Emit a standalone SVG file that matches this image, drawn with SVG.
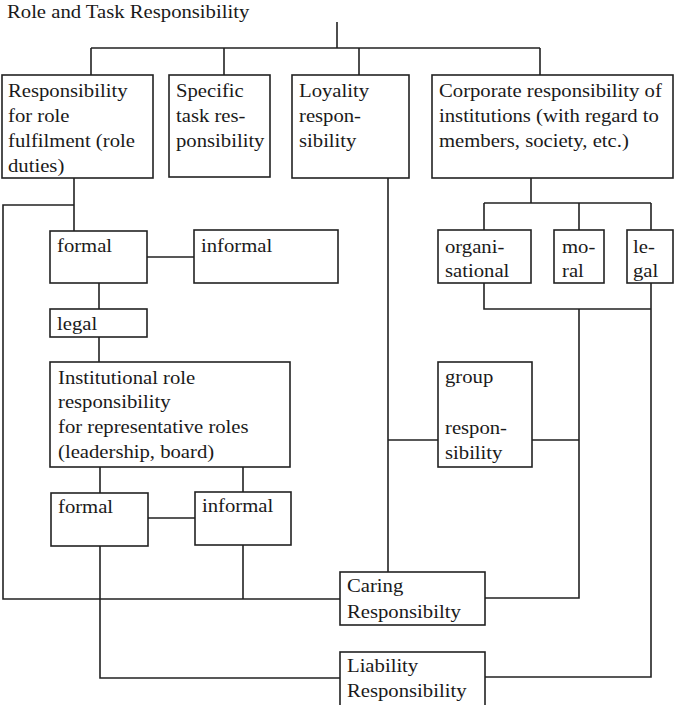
<svg xmlns="http://www.w3.org/2000/svg" width="675" height="705" viewBox="0 0 675 705">
<style>
rect{fill:#fff;stroke:#222;stroke-width:1.6}
#connectors path{fill:none;stroke:#222;stroke-width:1.6}
text{font-family:"Liberation Serif","Times New Roman",serif;font-size:18px;fill:#1a1a1a}
</style>
<rect x="0" y="0" width="675" height="705" style="fill:#fff;stroke:none"/>
<g id="connectors">
<path d="M337,22V48M91,48H540M91,48V75M224,48V75M359,48V75M540,48V75"/>
<path d="M74,178V205H3V599H340M74,205V231"/>
<path d="M147,257H194M99,283V309M99,337V362"/>
<path d="M100,467V493M243,467V492M148,518H195"/>
<path d="M100,546V678H340M243,545V599"/>
<path d="M388,178V572M388,440H438M532,440H579"/>
<path d="M531,178V203M484,203H651M484,203V230M579,203V230M651,203V230"/>
<path d="M484,283V309H651M651,283V677H485M579,309V598H485"/>
</g>
<g id="title"><text transform="translate(7,18) scale(1.15,1)">Role and Task Responsibility</text></g>
<g id="n_role"><rect x="2" y="75" width="151" height="103"/>
<text transform="translate(8,97) scale(1.15,1)"><tspan x="0" y="0">Responsibility</tspan><tspan x="0" y="25">for role</tspan><tspan x="0" y="50">fulfilment (role</tspan><tspan x="0" y="75">duties)</tspan></text></g>
<g id="n_task"><rect x="169" y="75" width="101" height="102"/>
<text transform="translate(176,97) scale(1.15,1)"><tspan x="0" y="0">Specific</tspan><tspan x="0" y="25">task res-</tspan><tspan x="0" y="50">ponsibility</tspan></text></g>
<g id="n_loyal"><rect x="292" y="75" width="117" height="103"/>
<text transform="translate(299,97) scale(1.15,1)"><tspan x="0" y="0">Loyality</tspan><tspan x="0" y="25">respon-</tspan><tspan x="0" y="50">sibility</tspan></text></g>
<g id="n_corp"><rect x="432" y="75" width="241" height="103"/>
<text transform="translate(439,97) scale(1.15,1)"><tspan x="0" y="0">Corporate responsibility of</tspan><tspan x="0" y="25">institutions (with regard to</tspan><tspan x="0" y="50">members, society, etc.)</tspan></text></g>
<g id="n_formal1"><rect x="50" y="231" width="97" height="52"/>
<text transform="translate(57,252) scale(1.15,1)">formal</text></g>
<g id="n_informal1"><rect x="194" y="230" width="144" height="53"/>
<text transform="translate(201,252) scale(1.15,1)">informal</text></g>
<g id="n_legal1"><rect x="50" y="309" width="97" height="28"/>
<text transform="translate(57,330) scale(1.15,1)">legal</text></g>
<g id="n_inst"><rect x="50" y="362" width="240" height="105"/>
<text transform="translate(58,384) scale(1.15,1)"><tspan x="0" y="0">Institutional role</tspan><tspan x="0" y="24.5">responsibility</tspan><tspan x="0" y="49">for representative roles</tspan><tspan x="0" y="74">(leadership, board)</tspan></text></g>
<g id="n_formal2"><rect x="51" y="493" width="97" height="53"/>
<text transform="translate(58,513) scale(1.15,1)">formal</text></g>
<g id="n_informal2"><rect x="195" y="492" width="96" height="53"/>
<text transform="translate(202,512) scale(1.15,1)">informal</text></g>
<g id="n_org"><rect x="438" y="230" width="93" height="53"/>
<text transform="translate(445,253) scale(1.15,1)"><tspan x="0" y="0">organi-</tspan><tspan x="0" y="24">sational</tspan></text></g>
<g id="n_moral"><rect x="554" y="230" width="50" height="53"/>
<text transform="translate(562,253) scale(1.15,1)"><tspan x="0" y="0">mo-</tspan><tspan x="0" y="24">ral</tspan></text></g>
<g id="n_legal2"><rect x="627" y="230" width="46" height="53"/>
<text transform="translate(633,253) scale(1.15,1)"><tspan x="0" y="0">le-</tspan><tspan x="0" y="24">gal</tspan></text></g>
<g id="n_group"><rect x="438" y="362" width="94" height="105"/>
<text transform="translate(445,383) scale(1.15,1)"><tspan x="0" y="0">group</tspan><tspan x="0" y="51">respon-</tspan><tspan x="0" y="76">sibility</tspan></text></g>
<g id="n_caring"><rect x="340" y="572" width="145" height="53"/>
<text transform="translate(347,592) scale(1.15,1)"><tspan x="0" y="0">Caring</tspan><tspan x="0" y="26">Responsibilty</tspan></text></g>
<g id="n_liability"><rect x="340" y="652" width="145" height="56"/>
<text transform="translate(347,672) scale(1.15,1)"><tspan x="0" y="0">Liability</tspan><tspan x="0" y="25">Responsibility</tspan></text></g>
</svg>
